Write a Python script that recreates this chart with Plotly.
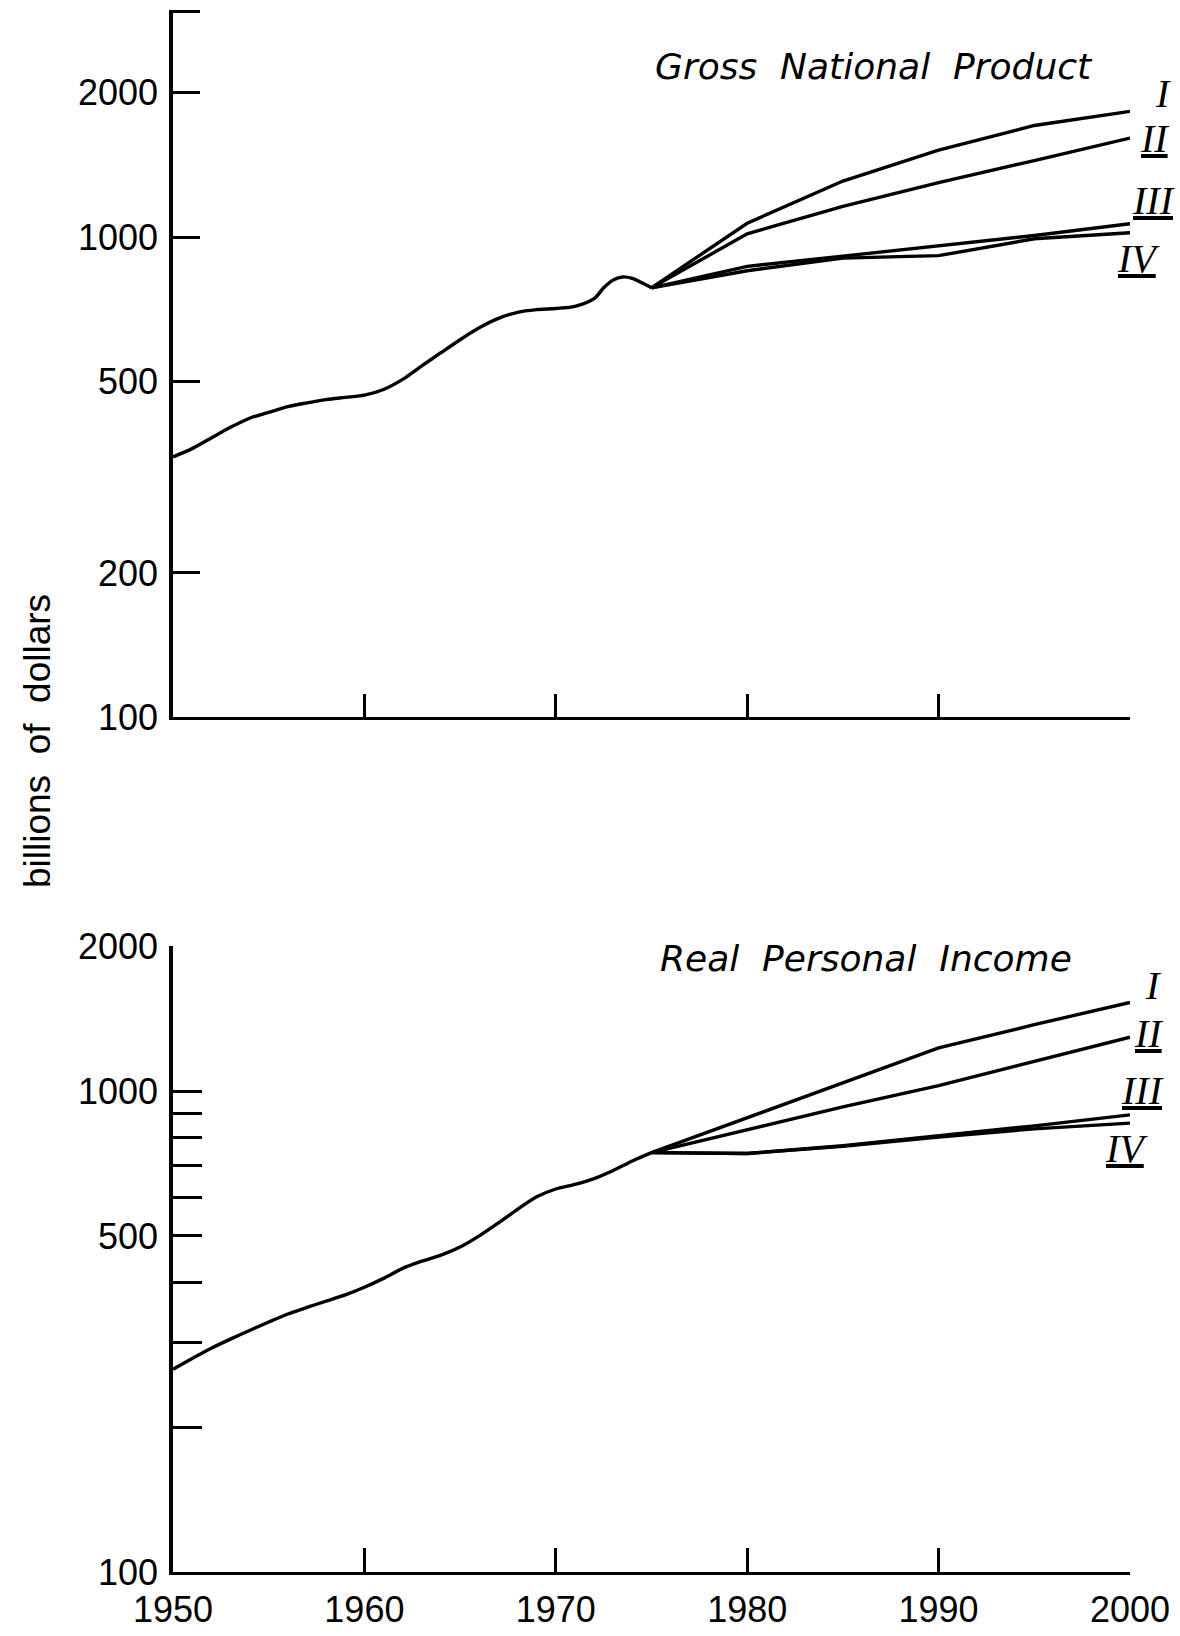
import plotly.graph_objects as go

# ---- Gross National Product (billions of dollars) ----
gnp_years = [1950, 1951, 1952, 1953, 1954, 1955, 1956, 1957, 1958, 1959, 1960,
             1961, 1962, 1963, 1964, 1965, 1966, 1967, 1968, 1969, 1970, 1971,
             1972, 1972.5, 1973, 1973.5, 1974, 1974.5, 1975]
gnp_hist = [349, 363, 382, 402, 420, 432, 444, 452, 459, 464, 469,
            482, 506, 540, 575, 612, 648, 678, 698, 707, 711, 718,
            745, 785, 815, 827, 821, 804, 785]

proj_years = [1975, 1980, 1985, 1990, 1995, 2000]
gnp_I = [785, 1070, 1310, 1520, 1710, 1830]
gnp_II = [785, 1017, 1160, 1300, 1445, 1610]
gnp_III = [785, 870, 914, 960, 1009, 1067]
gnp_IV = [785, 852, 905, 916, 993, 1022]

# ---- Real Personal Income (billions of dollars) ----
rpi_years = [1950, 1951, 1952, 1953, 1954, 1955, 1956, 1957, 1958, 1959, 1960,
             1961, 1962, 1963, 1964, 1965, 1966, 1967, 1968, 1969, 1970, 1971,
             1972, 1973, 1974, 1975]
rpi_hist = [264, 278, 292, 305, 318, 331, 344, 355, 366, 377, 391,
            408, 428, 443, 456, 474, 500, 532, 568, 603, 626, 640,
            658, 684, 716, 745]
rpi_I = [745, 880, 1040, 1230, 1375, 1530]
rpi_II = [745, 833, 928, 1027, 1155, 1295]
rpi_III = [745, 742, 770, 806, 847, 893]
rpi_IV = [745, 742, 768, 803, 835, 858]

scenario_names = ["I", "II", "III", "IV"]

x_ticks = [1950, 1960, 1970, 1980, 1990, 2000]
x_tick_text = ["1950", "1960", "1970", "1980", "1990", "2000"]
gnp_yticks = [100, 200, 500, 1000, 2000, 2950]
gnp_ytext = ["100", "200", "500", "1000", "2000", ""]
rpi_yticks = [100, 200, 300, 400, 500, 600, 700, 800, 900, 1000, 2000]
rpi_ytext = ["100", "", "", "", "500", "", "", "", "", "1000", "2000"]

W, H = 1180, 1636
ML, MR, MT, MB = 173, 50, 10, 64
PW, PH = W - ML - MR, H - MT - MB


def px(x):
    return (x - ML) / PW


def py(y):
    return (H - MB - y) / PH


INK = "#000000"
LINE = dict(color=INK, width=3.4)

fig = go.Figure()

fig.add_trace(go.Scatter(x=gnp_years, y=gnp_hist, mode="lines",
                         line=dict(color=INK, width=3.4, shape="spline", smoothing=0.8),
                         xaxis="x", yaxis="y", showlegend=False, hoverinfo="skip"))
for vals in (gnp_I, gnp_II, gnp_III, gnp_IV):
    fig.add_trace(go.Scatter(x=proj_years, y=vals, mode="lines", line=LINE,
                             xaxis="x", yaxis="y", showlegend=False, hoverinfo="skip"))

fig.add_trace(go.Scatter(x=rpi_years, y=rpi_hist, mode="lines",
                         line=dict(color=INK, width=3.4, shape="spline", smoothing=0.6),
                         xaxis="x2", yaxis="y2", showlegend=False, hoverinfo="skip"))
for vals in (rpi_I, rpi_II, rpi_III, rpi_IV):
    fig.add_trace(go.Scatter(x=proj_years, y=vals, mode="lines", line=LINE,
                             xaxis="x2", yaxis="y2", showlegend=False, hoverinfo="skip"))

tick_font = dict(family="Liberation Sans, Arial, sans-serif", size=36, color=INK)

xcommon = dict(range=[1950, 2000], showline=True, linecolor=INK, linewidth=2.5,
               ticks="inside", ticklen=24, tickwidth=2.5, tickcolor=INK,
               tickvals=x_ticks, ticktext=x_tick_text, showgrid=False,
               zeroline=False, tickfont=tick_font, automargin=False)
ycommon = dict(type="log", showline=True, linecolor=INK, linewidth=3.5,
               ticks="inside", ticklen=27, tickwidth=2.5, tickcolor=INK,
               showgrid=False, zeroline=False, tickfont=tick_font,
               ticklabelstandoff=4, automargin=False)

fig.update_layout(
    width=W, height=H,
    margin=dict(l=ML, r=MR, t=MT, b=MB, autoexpand=False),
    paper_bgcolor="white", plot_bgcolor="white",
    xaxis=dict(xcommon, anchor="y", showticklabels=False),
    yaxis=dict(ycommon, domain=[0.5471, 1.0], range=[2, 3.4735], anchor="x",
               tickvals=gnp_yticks, ticktext=gnp_ytext),
    xaxis2=dict(xcommon, anchor="y2", ticklabelstandoff=4),
    yaxis2=dict(ycommon, domain=[0.0, 0.4005], range=[2, 3.3011], anchor="x2",
                tickvals=rpi_yticks, ticktext=rpi_ytext, ticklen=29),
)

title_font = dict(family="DejaVu Sans, sans-serif", size=36, color=INK)
numeral_font = dict(family="Liberation Serif, Times New Roman, serif", size=40, color=INK)


def spaced(text):
    return text.replace(" ", "\u00a0\u00a0")


def numeral(label):
    if label == "I":
        return "<i>I</i>"
    return "<i><u>" + label + "</u></i>"


annotations = [
    dict(text="<i>" + spaced("Gross National Product") + "</i>",
         x=px(874), y=py(67), font=title_font),
    dict(text="<i>" + spaced("Real Personal Income") + "</i>",
         x=px(866), y=py(958), font=title_font),
    dict(text="billions\u00a0\u00a0of\u00a0\u00a0dollars", textangle=-90,
         x=px(38), y=py(741), font=dict(family="Liberation Sans, Arial, sans-serif",
                                         size=37, color=INK)),
]

gnp_label_pos = [(1163, 93), (1154, 138), (1153, 200), (1138, 259)]
rpi_label_pos = [(1153, 986), (1148, 1033), (1142, 1090), (1126, 1148)]
for name, (lx, ly) in zip(scenario_names, gnp_label_pos):
    annotations.append(dict(text=numeral(name), x=px(lx), y=py(ly), font=numeral_font))
for name, (lx, ly) in zip(scenario_names, rpi_label_pos):
    annotations.append(dict(text=numeral(name), x=px(lx), y=py(ly), font=numeral_font))

for a in annotations:
    a.update(xref="paper", yref="paper", showarrow=False,
             xanchor="center", yanchor="middle")

fig.update_layout(annotations=annotations)

fig.write_html("out.html")
